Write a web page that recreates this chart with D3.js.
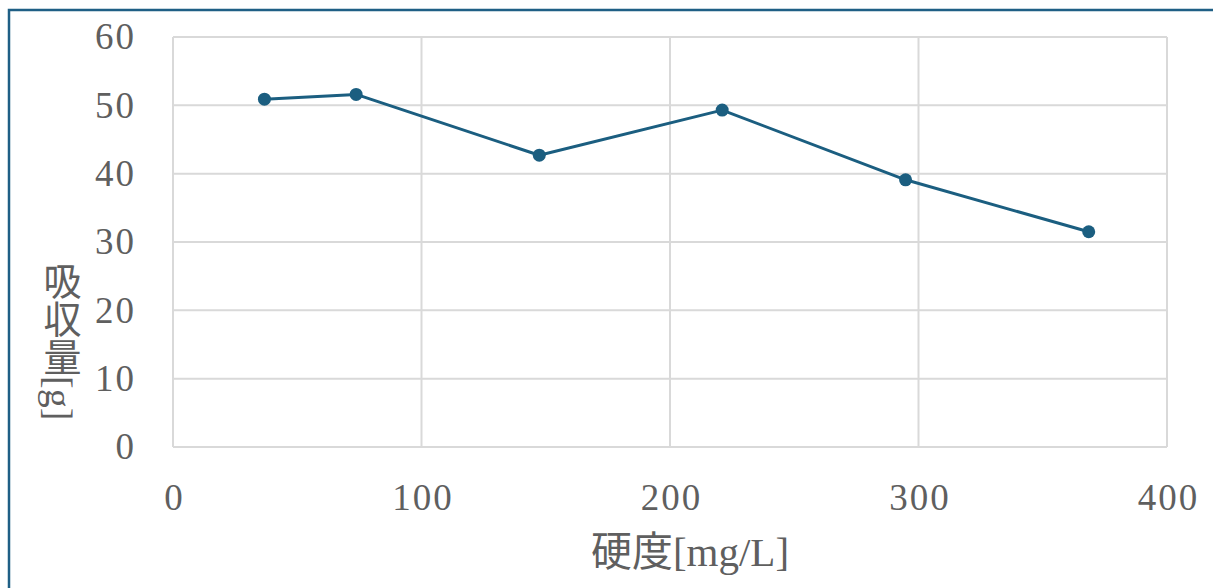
<!DOCTYPE html>
<html><head><meta charset="utf-8">
<script src="https://cdn.jsdelivr.net/npm/d3@7"></script>
<style>
html,body{margin:0;padding:0;background:#fff;}
svg{display:block;}
</style></head>
<body>
<svg id="c" width="1213" height="588"></svg>
<script>
const hardness = [36.8, 73.7, 147.4, 221, 294.8, 368.5];
const absorption = [50.9, 51.6, 42.7, 49.3, 39.1, 31.5];
const xTicks = [0, 100, 200, 300, 400];
const yTicks = [0, 10, 20, 30, 40, 50, 60];
const xTitle = "硬度[mg/L]";
const yTitle = "吸収量[g]";

const svg = d3.select("#c");
const serif = "'Liberation Serif','DejaVu Serif',serif";
const txt = "#5f5f5f";
const lineColor = "#1b5e80";
const fs = 37;

// outer frame (cropped on right and bottom)
svg.append("rect").attr("x", 9).attr("y", 10).attr("width", 1240).attr("height", 620)
  .attr("fill", "none").attr("stroke", "#1f5f85").attr("stroke-width", 2.5);

const L = 173, R = 1167, T = 37, B = 447;
const x = d3.scaleLinear().domain([0, 400]).range([L, R]);
const y = d3.scaleLinear().domain([0, 60]).range([B, T]);

// gridlines
const g = svg.append("g");
g.selectAll(".vg").data(xTicks).join("line")
  .attr("x1", d => x(d)).attr("x2", d => x(d)).attr("y1", T).attr("y2", B)
  .attr("stroke", "#d9d9d9").attr("stroke-width", 2);
g.selectAll(".hg").data(yTicks).join("line")
  .attr("x1", L).attr("x2", R).attr("y1", d => y(d)).attr("y2", d => y(d))
  .attr("stroke", "#d9d9d9").attr("stroke-width", 2);

// axes labels via d3 axes
const xAxis = svg.append("g").attr("transform", `translate(0,${B})`)
  .call(d3.axisBottom(x).tickValues(xTicks).tickSize(0).tickPadding(37));
xAxis.select(".domain").remove();
xAxis.selectAll("text").attr("font-family", serif).attr("font-size", fs).attr("fill", txt)
  .attr("letter-spacing", 2).attr("dx", 1);

const yAxis = svg.append("g").attr("transform", `translate(${L},0)`)
  .call(d3.axisLeft(y).tickValues(yTicks).tickSize(0).tickPadding(37));
yAxis.select(".domain").remove();
yAxis.selectAll("text").attr("font-family", serif).attr("font-size", fs).attr("fill", txt)
  .attr("letter-spacing", 2);

// line
const data = hardness.map((h, i) => ({h, v: absorption[i]}));
svg.append("path").datum(data)
  .attr("fill", "none").attr("stroke", lineColor).attr("stroke-width", 3)
  .attr("stroke-linejoin", "round")
  .attr("d", d3.line().x(d => x(d.h)).y(d => y(d.v)));
svg.selectAll(".pt").data(data).join("circle")
  .attr("cx", d => x(d.h)).attr("cy", d => y(d.v)).attr("r", 6.5)
  .attr("fill", lineColor);

// titles
svg.append("text").attr("x", 690).attr("y", 566).attr("text-anchor", "middle")
  .attr("font-family", "'Liberation Serif','Noto Sans CJK JP',serif").attr("font-size", 41)
  .attr("fill", txt).text(xTitle);

svg.append("text").attr("x", 59).attr("y", 262)
  .attr("font-family", "'Liberation Serif','Noto Sans CJK JP',serif").attr("font-size", 38)
  .attr("fill", txt).style("writing-mode", "vertical-rl").text(yTitle);
</script>
</body></html>
